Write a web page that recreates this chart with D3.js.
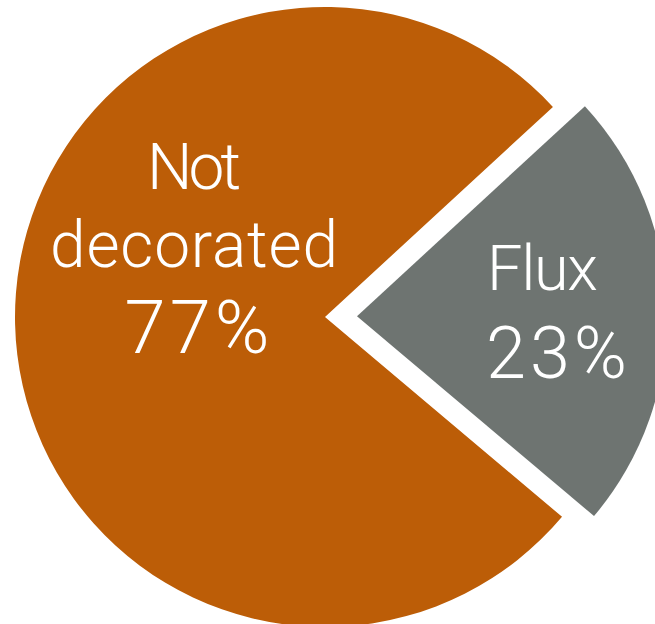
<!DOCTYPE html>
<html>
<head>
<meta charset="utf-8">
<script src="https://cdn.jsdelivr.net/npm/d3@7"></script>
<style>
  html, body { margin: 0; padding: 0; background: #ffffff; }
  svg { display: block; }
  text { font-family: "Roboto", "Helvetica Neue", Arial, sans-serif; font-weight: 300; fill: #ffffff; }
</style>
</head>
<body>
<svg id="chart" width="655" height="624"></svg>
<script>
const categories = ["Not decorated", "Flux"];
const values = [77, 23];
const labelLines = [["Not", "decorated"], ["Flux"]];
const percentLabels = ["77%", "23%"];
const colors = ["#BC5D07", "#6E7471"];

const cx = 325, cy = 317, R = 310;
const explode = [0, 32];

const svg = d3.select("#chart");
const g = svg.append("g").attr("transform", `translate(${cx},${cy})`);

const fluxStart = 0.826; // radians, start of the Flux slice (clockwise from top)
const fluxSpan = 2 * Math.PI * values[1] / d3.sum(values);
const pie = d3.pie().sort(null).value(d => d.value)
  .startAngle(fluxStart + fluxSpan)
  .endAngle(fluxStart + fluxSpan + 2 * Math.PI);
const data = categories.map((c, i) => ({ name: c, value: values[i], i }));
const arcs = pie(data);

const arc = d3.arc().innerRadius(0).outerRadius(R);

const slice = g.selectAll("g.slice").data(arcs).enter().append("g")
  .attr("class", "slice")
  .attr("transform", d => {
    const mid = (d.startAngle + d.endAngle) / 2;
    const e = explode[d.data.i];
    return `translate(${e * Math.sin(mid)},${-e * Math.cos(mid)})`;
  });

slice.append("path").attr("d", arc).attr("fill", d => colors[d.data.i]);

// Labels
const labelSpecs = [
  { t: labelLines[0][0], x: 194, y: 189, size: 64, anchor: "middle", w: 94 },
  { t: labelLines[0][1], x: 194, y: 267, size: 64, anchor: "middle", w: 288 },
  { t: percentLabels[0], x: 197, y: 353, size: 74, anchor: "middle", w: 145 },
  { t: labelLines[1][0], x: 487, y: 290, size: 63, anchor: "start", w: 111 },
  { t: percentLabels[1], x: 486, y: 378, size: 72, anchor: "start", w: 141 }
];
svg.append("g").selectAll("text").data(labelSpecs).enter().append("text")
  .attr("x", d => d.x).attr("y", d => d.y)
  .attr("text-anchor", d => d.anchor)
  .attr("font-size", d => d.size)
  .attr("textLength", d => d.w)
  .attr("lengthAdjust", "spacing")
  .text(d => d.t);
</script>
</body>
</html>
